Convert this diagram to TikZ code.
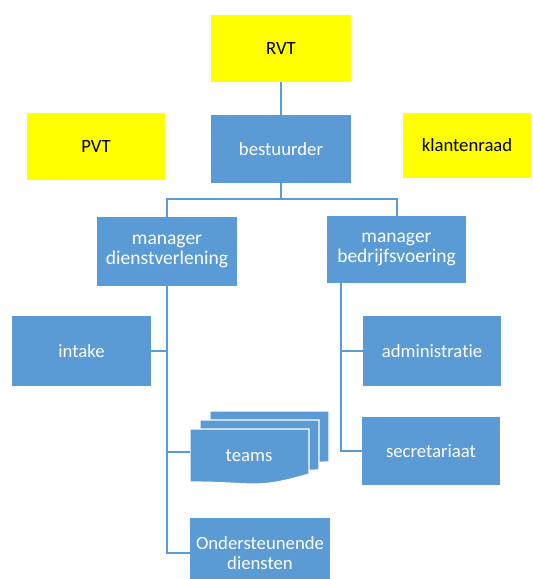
\documentclass[tikz,border=0pt]{standalone}
\usepackage{fontspec}
\setmainfont[Ligatures=NoCommon]{Carlito}
\definecolor{obox}{HTML}{5B9BD5}
\definecolor{oyel}{HTML}{FFFF00}
\begin{document}
\begin{tikzpicture}[x=1pt,y=-1pt,
  base/.style={inner sep=0pt, align=center, font=\fontsize{18.7}{20}\selectfont},
  big/.style={font=\fontsize{19.5}{20}\selectfont},
  box/.style={base, fill=obox, text=white},
  ybox/.style={base, fill=oyel, text=black},
  conn/.style={draw=obox, line width=2pt},
  docpart/.style={fill=obox, draw=white, line width=1.2pt}]
\useasboundingbox (0,0) rectangle (533,579);
\clip (0,0) rectangle (533,579);

% yellow boxes
\node[ybox, minimum width=140pt, minimum height=67pt] (rvt) at (281,48.5) {RVT};
\node[ybox, minimum width=138pt, minimum height=67pt] (pvt) at (96,146.5) {PVT};
\node[ybox, minimum width=128pt, minimum height=65pt] (klant) at (467,145.5) {klantenraad};

% blue boxes
\node[box, minimum width=140pt, minimum height=68pt] (best) at (281,149) {bestuurder};
\node[box, big, minimum width=140pt, minimum height=69pt] (mgrd) at (167,251.5) {manager\\dienstverlening};
\node[box, big, minimum width=139pt, minimum height=67pt] (mgrb) at (396.5,249.5) {manager\\bedrijfsvoering};
\node[box, minimum width=139pt, minimum height=70pt] (intake) at (81.5,351) {intake};
\node[box, minimum width=138pt, minimum height=70pt] (admin) at (432,351) {administratie};
\node[box, minimum width=138pt, minimum height=68pt] (secr) at (431,451) {secretariaat};
\node[box, minimum width=140pt, minimum height=70pt] (onder) at (260,553) {Ondersteunende\\diensten};

% teams (multi-document shape)
\path[docpart] (210,411) -- (329,411) -- (329,462) .. controls (310,462) and (300,466) .. (280,467) -- (210,467) -- cycle;
\path[docpart] (200,420) -- (319,420) -- (319,470) .. controls (300,470) and (290,475) .. (270,476) -- (200,476) -- cycle;
\path[docpart] (190,429) -- (309,429) -- (309,474) .. controls (255,490) and (255,482) .. (190,482) -- cycle;
\node[base, text=white] (teams) at (249,456) {teams};
\coordinate (teamsw) at (190,452);

% connectors
\coordinate (tbar) at (281,199);
\draw[conn] (rvt.south) -- (best.north);
\draw[conn] (best.south) -- (tbar);
\draw[conn] (mgrd.north) |- (tbar) -| (mgrb.north);

\coordinate (ltrunk) at (mgrd.south);
\draw[conn] (ltrunk) -- (ltrunk |- onder.west) -- (onder.west);
\draw[conn] (ltrunk |- intake.east) -- (intake.east);
\draw[conn] (ltrunk |- teamsw) -- (teamsw);

\coordinate (rtrunk) at ([xshift=14pt]mgrb.south west);
\draw[conn] (rtrunk) -- (rtrunk |- secr.west) -- (secr.west);
\draw[conn] (rtrunk |- admin.west) -- (admin.west);
\end{tikzpicture}
\end{document}
